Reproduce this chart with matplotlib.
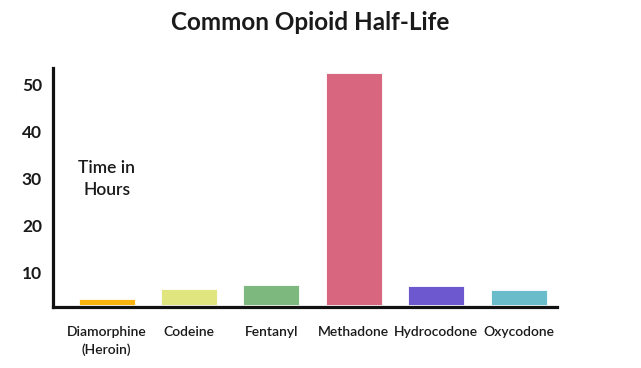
import matplotlib
matplotlib.use("Agg")
import matplotlib.pyplot as plt
import numpy as np

categories = ["Diamorphine\n(Heroin)", "Codeine", "Fentanyl", "Methadone", "Hydrocodone", "Oxycodone"]
half_life = [1.2, 3.4, 4.2, 49.5, 3.9, 3.2]
colors = ["#FBB40F", "#E1E57F", "#7DB97E", "#D8667E", "#6E58D0", "#6BBCCA"]
yticks = [10, 20, 30, 40, 50]

base = 3.1

plt.rcParams['font.family'] = ['Lato', 'DejaVu Sans']

fig = plt.figure(figsize=(6.41, 3.68), dpi=100)
ax = fig.add_axes([0.0827, 0.1666, 0.7863, 0.6486])

x = np.arange(len(categories))
ax.bar(x, half_life, bottom=base, width=0.68, color=colors, edgecolor="white", linewidth=0.6)

ax.set_ylim(2.65, 53.6)
ax.set_xlim(-0.652, len(categories) - 1 + 0.467)
ax.set_yticks(yticks)
ax.set_yticklabels([str(t) for t in yticks], fontsize=12.5, fontweight='bold', color='#1a1a1a')
ax.set_xticks(x)
ax.set_xticklabels(categories, fontsize=10, fontweight='semibold', color='#1a1a1a', linespacing=1.45)
ax.tick_params(axis='both', length=0)
ax.tick_params(axis='y', pad=8)
ax.tick_params(axis='x', pad=14)

for s in ['top', 'right']:
    ax.spines[s].set_visible(False)
for s in ['left', 'bottom']:
    ax.spines[s].set_linewidth(2.3)
    ax.spines[s].set_color('#111111')

ax.text(0.107, 0.535, "Time in\nHours", transform=ax.transAxes, ha='center', va='center',
        fontsize=12.5, fontweight='semibold', color='#1a1a1a', linespacing=1.4)

fig.text(0.484, 0.94, "Common Opioid Half-Life", ha='center', va='center',
         fontsize=17.5, fontweight='bold', color='#1a1a1a')

fig.savefig("out.png", dpi=100, facecolor='white')
